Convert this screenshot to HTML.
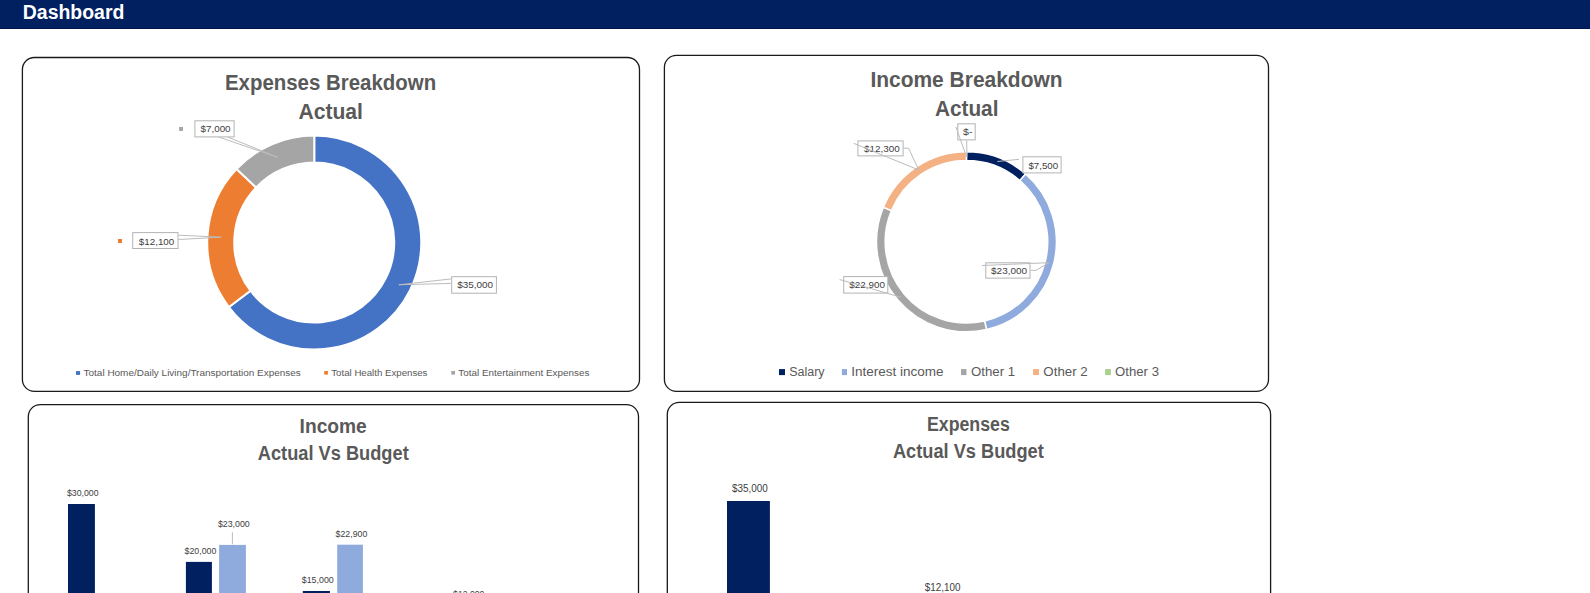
<!DOCTYPE html>
<html><head><meta charset="utf-8"><title>Dashboard</title>
<style>
html,body{margin:0;padding:0;background:#fff;overflow:hidden;}
svg{display:block;font-family:"Liberation Sans",sans-serif;}
</style></head>
<body>
<svg width="1590" height="593" viewBox="0 0 1590 593">
<rect x="0.00" y="0.00" width="1590.00" height="28.00" fill="#002060"/>
<rect x="0.00" y="28.00" width="1590.00" height="1.00" fill="#001654"/>
<text x="22.80" y="18.70" font-size="20" font-weight="bold" fill="#ffffff" textLength="101.58" lengthAdjust="spacingAndGlyphs">Dashboard</text>
<rect x="22.40" y="57.50" width="617.10" height="333.90" rx="12" ry="12" fill="none" stroke="#1a1a1a" stroke-width="1.3"/>
<rect x="664.40" y="55.40" width="604.10" height="336.00" rx="12" ry="12" fill="none" stroke="#1a1a1a" stroke-width="1.3"/>
<rect x="28.30" y="404.60" width="610.20" height="235.40" rx="12" ry="12" fill="none" stroke="#1a1a1a" stroke-width="1.3"/>
<rect x="667.30" y="402.40" width="603.30" height="237.60" rx="12" ry="12" fill="none" stroke="#1a1a1a" stroke-width="1.3"/>
<text x="224.93" y="89.70" font-size="22" font-weight="bold" fill="#595959" textLength="211.23" lengthAdjust="spacingAndGlyphs">Expenses Breakdown</text>
<text x="298.48" y="118.90" font-size="22" font-weight="bold" fill="#595959" textLength="64.42" lengthAdjust="spacingAndGlyphs">Actual</text>
<path d="M314.25,135.50 A107.0,107.0 0 1 1 228.91,307.04 L250.44,290.75 A80.0,80.0 0 1 0 314.25,162.50 Z" fill="#4472C4" stroke="#fff" stroke-width="2" stroke-linejoin="miter"/>
<path d="M228.91,307.04 A107.0,107.0 0 0 1 236.53,168.96 L256.14,187.51 A80.0,80.0 0 0 0 250.44,290.75 Z" fill="#ED7D31" stroke="#fff" stroke-width="2" stroke-linejoin="miter"/>
<path d="M236.53,168.96 A107.0,107.0 0 0 1 314.25,135.50 L314.25,162.50 A80.0,80.0 0 0 0 256.14,187.51 Z" fill="#A5A5A5" stroke="#fff" stroke-width="2" stroke-linejoin="miter"/>
<path d="M218.70,137.00 L277.60,157.30 L227.70,137.00" fill="none" stroke="#bcbcbc" stroke-width="1.0"/>
<path d="M178.50,235.20 L221.20,237.20 L178.50,239.50" fill="none" stroke="#bcbcbc" stroke-width="1.0"/>
<path d="M451.20,278.90 L398.90,284.80 L451.20,283.40" fill="none" stroke="#bcbcbc" stroke-width="1.0"/>
<rect x="194.90" y="120.80" width="39.20" height="16.10" fill="#fff" stroke="#b3b3b3" stroke-width="1"/>
<text x="200.49" y="131.70" font-size="9.6" font-weight="normal" fill="#404040" textLength="30.09" lengthAdjust="spacingAndGlyphs">$7,000</text>
<rect x="179.10" y="127.00" width="3.90" height="3.90" fill="#A5A5A5"/>
<rect x="132.70" y="232.60" width="45.30" height="15.90" fill="#fff" stroke="#b3b3b3" stroke-width="1"/>
<text x="138.79" y="244.80" font-size="9.6" font-weight="normal" fill="#404040" textLength="35.49" lengthAdjust="spacingAndGlyphs">$12,100</text>
<rect x="118.00" y="239.00" width="4.00" height="4.00" fill="#ED7D31"/>
<rect x="451.70" y="276.70" width="44.70" height="16.50" fill="#fff" stroke="#b3b3b3" stroke-width="1"/>
<text x="457.19" y="287.50" font-size="9.6" font-weight="normal" fill="#404040" textLength="35.89" lengthAdjust="spacingAndGlyphs">$35,000</text>
<rect x="76.00" y="371.10" width="4.10" height="3.80" fill="#4472C4"/>
<text x="83.58" y="375.70" font-size="9.6" font-weight="normal" fill="#595959" textLength="217.18" lengthAdjust="spacingAndGlyphs">Total Home/Daily Living/Transportation Expenses</text>
<rect x="324.20" y="371.00" width="3.70" height="3.60" fill="#ED7D31"/>
<text x="331.29" y="375.70" font-size="9.6" font-weight="normal" fill="#595959" textLength="96.16" lengthAdjust="spacingAndGlyphs">Total Health Expenses</text>
<rect x="451.30" y="371.00" width="3.70" height="3.60" fill="#A5A5A5"/>
<text x="458.38" y="375.70" font-size="9.6" font-weight="normal" fill="#595959" textLength="130.97" lengthAdjust="spacingAndGlyphs">Total Entertainment Expenses</text>
<text x="870.40" y="87.00" font-size="21.5" font-weight="bold" fill="#595959" textLength="192.20" lengthAdjust="spacingAndGlyphs">Income Breakdown</text>
<text x="934.88" y="115.80" font-size="21.5" font-weight="bold" fill="#595959" textLength="63.59" lengthAdjust="spacingAndGlyphs">Actual</text>
<path d="M966.45,151.85 A89.95,89.95 0 0 1 1025.58,174.01 L1019.86,180.57 A81.25,81.25 0 0 0 966.45,160.55 Z" fill="#002060" stroke="#fff" stroke-width="1.5" stroke-linejoin="miter"/>
<path d="M1025.58,174.01 A89.95,89.95 0 0 1 986.50,329.49 L984.56,321.01 A81.25,81.25 0 0 0 1019.86,180.57 Z" fill="#8FAADC" stroke="#fff" stroke-width="1.5" stroke-linejoin="miter"/>
<path d="M986.50,329.49 A89.95,89.95 0 0 1 883.41,207.23 L891.44,210.57 A81.25,81.25 0 0 0 984.56,321.01 Z" fill="#A5A5A5" stroke="#fff" stroke-width="1.5" stroke-linejoin="miter"/>
<path d="M883.41,207.23 A89.95,89.95 0 0 1 966.45,151.85 L966.45,160.55 A81.25,81.25 0 0 0 891.44,210.57 Z" fill="#F4B183" stroke="#fff" stroke-width="1.5" stroke-linejoin="miter"/>
<rect x="957.80" y="123.80" width="17.40" height="16.10" fill="#fff" stroke="#b3b3b3" stroke-width="1"/>
<text x="963.09" y="134.70" font-size="9.6" font-weight="normal" fill="#404040" textLength="9.38" lengthAdjust="spacingAndGlyphs">$-</text>
<rect x="857.90" y="140.90" width="45.20" height="15.00" fill="#fff" stroke="#b3b3b3" stroke-width="1"/>
<text x="863.99" y="151.50" font-size="9.6" font-weight="normal" fill="#404040" textLength="35.69" lengthAdjust="spacingAndGlyphs">$12,300</text>
<rect x="1022.90" y="156.80" width="38.20" height="16.10" fill="#fff" stroke="#b3b3b3" stroke-width="1"/>
<text x="1028.40" y="168.80" font-size="9.6" font-weight="normal" fill="#404040" textLength="29.79" lengthAdjust="spacingAndGlyphs">$7,500</text>
<rect x="843.70" y="276.60" width="44.10" height="16.50" fill="#fff" stroke="#b3b3b3" stroke-width="1"/>
<text x="849.39" y="287.70" font-size="9.6" font-weight="normal" fill="#404040" textLength="35.59" lengthAdjust="spacingAndGlyphs">$22,900</text>
<rect x="985.80" y="262.80" width="44.20" height="15.30" fill="#fff" stroke="#b3b3b3" stroke-width="1"/>
<text x="991.09" y="273.60" font-size="9.6" font-weight="normal" fill="#404040" textLength="36.00" lengthAdjust="spacingAndGlyphs">$23,000</text>
<path d="M853.70,143.30 L918.80,170.00" fill="none" stroke="#bcbcbc" stroke-width="1.0"/>
<path d="M903.60,148.20 L908.50,148.20 L918.80,170.00" fill="none" stroke="#bcbcbc" stroke-width="1.0"/>
<path d="M955.90,127.00 L966.70,157.00" fill="none" stroke="#bcbcbc" stroke-width="1.0"/>
<path d="M966.70,140.40 L966.90,157.00" fill="none" stroke="#bcbcbc" stroke-width="1.0"/>
<path d="M1019.10,159.30 L997.30,161.50" fill="none" stroke="#bcbcbc" stroke-width="1.0"/>
<path d="M839.60,279.50 L900.80,297.20" fill="none" stroke="#bcbcbc" stroke-width="1.0"/>
<path d="M981.80,265.50 L1049.10,262.70" fill="none" stroke="#bcbcbc" stroke-width="1.0"/>
<path d="M1030.50,270.40 L1035.80,270.40 L1049.10,262.70" fill="none" stroke="#bcbcbc" stroke-width="1.0"/>
<rect x="779.00" y="369.10" width="6.00" height="6.00" fill="#002060"/>
<text x="789.13" y="375.70" font-size="12.5" font-weight="normal" fill="#595959" textLength="35.49" lengthAdjust="spacingAndGlyphs">Salary</text>
<rect x="841.90" y="369.10" width="5.10" height="6.00" fill="#8FAADC"/>
<text x="851.25" y="375.70" font-size="12.5" font-weight="normal" fill="#595959" textLength="92.35" lengthAdjust="spacingAndGlyphs">Interest income</text>
<rect x="961.00" y="369.10" width="5.50" height="6.00" fill="#A5A5A5"/>
<text x="971.07" y="375.70" font-size="12.5" font-weight="normal" fill="#595959" textLength="44.07" lengthAdjust="spacingAndGlyphs">Other 1</text>
<rect x="1033.10" y="369.10" width="5.90" height="6.00" fill="#F4B183"/>
<text x="1043.37" y="375.70" font-size="12.5" font-weight="normal" fill="#595959" textLength="44.30" lengthAdjust="spacingAndGlyphs">Other 2</text>
<rect x="1105.10" y="369.10" width="5.80" height="6.00" fill="#A9D18E"/>
<text x="1115.08" y="375.70" font-size="12.5" font-weight="normal" fill="#595959" textLength="43.90" lengthAdjust="spacingAndGlyphs">Other 3</text>
<text x="299.62" y="433.10" font-size="20" font-weight="bold" fill="#595959" textLength="67.14" lengthAdjust="spacingAndGlyphs">Income</text>
<text x="257.75" y="460.00" font-size="20" font-weight="bold" fill="#595959" textLength="150.98" lengthAdjust="spacingAndGlyphs">Actual Vs Budget</text>
<rect x="68.00" y="504.00" width="26.90" height="96.00" fill="#002060"/>
<rect x="185.90" y="561.90" width="26.00" height="38.10" fill="#002060"/>
<rect x="219.10" y="544.90" width="26.80" height="55.10" fill="#8FAADC"/>
<rect x="302.80" y="591.00" width="27.10" height="9.00" fill="#002060"/>
<rect x="337.20" y="544.70" width="25.70" height="55.30" fill="#8FAADC"/>
<path d="M232.40,532.20 L232.40,544.30" fill="none" stroke="#bcbcbc" stroke-width="1.0"/>
<text x="66.91" y="495.80" font-size="8.6" font-weight="normal" fill="#404040" textLength="31.64" lengthAdjust="spacingAndGlyphs">$30,000</text>
<text x="184.51" y="554.00" font-size="8.6" font-weight="normal" fill="#404040" textLength="31.84" lengthAdjust="spacingAndGlyphs">$20,000</text>
<text x="217.91" y="527.00" font-size="8.6" font-weight="normal" fill="#404040" textLength="31.84" lengthAdjust="spacingAndGlyphs">$23,000</text>
<text x="301.81" y="582.90" font-size="8.6" font-weight="normal" fill="#404040" textLength="31.94" lengthAdjust="spacingAndGlyphs">$15,000</text>
<text x="335.61" y="537.00" font-size="8.6" font-weight="normal" fill="#404040" textLength="31.74" lengthAdjust="spacingAndGlyphs">$22,900</text>
<text x="453.11" y="597.40" font-size="8.6" font-weight="normal" fill="#404040" textLength="31.23" lengthAdjust="spacingAndGlyphs">$12,000</text>
<text x="926.91" y="430.80" font-size="20" font-weight="bold" fill="#595959" textLength="82.92" lengthAdjust="spacingAndGlyphs">Expenses</text>
<text x="892.95" y="457.60" font-size="20" font-weight="bold" fill="#595959" textLength="150.88" lengthAdjust="spacingAndGlyphs">Actual Vs Budget</text>
<rect x="727.00" y="501.00" width="42.90" height="99.00" fill="#002060"/>
<text x="731.99" y="492.00" font-size="10" font-weight="normal" fill="#404040" textLength="35.89" lengthAdjust="spacingAndGlyphs">$35,000</text>
<text x="924.79" y="590.90" font-size="10" font-weight="normal" fill="#404040" textLength="35.59" lengthAdjust="spacingAndGlyphs">$12,100</text>
</svg>
</body></html>
